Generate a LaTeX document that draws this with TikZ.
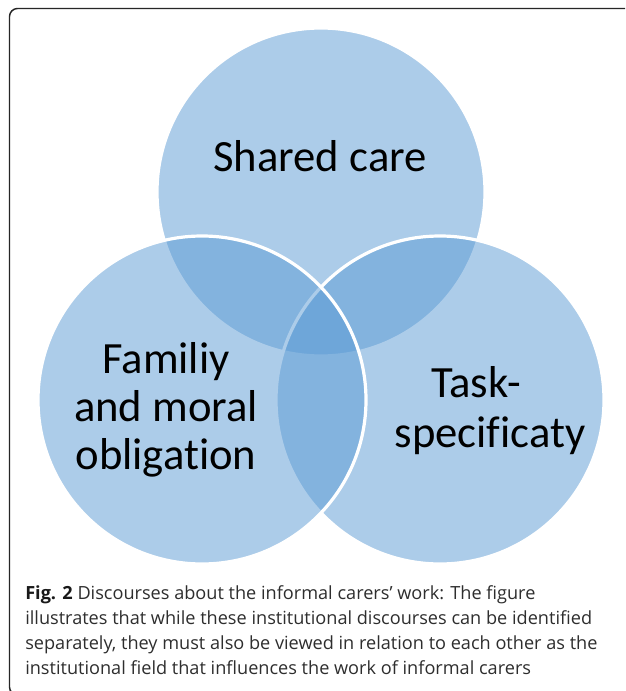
\documentclass[tikz,border=0pt]{standalone}
\usepackage{fontspec}
\setmainfont{Carlito}[Ligatures={NoCommon,NoContextual}]
\newfontfamily\capfont{Open Sans}
\definecolor{acc}{HTML}{5B9BD5}
\definecolor{captxt}{HTML}{2E2E2E}
\begin{document}
\begin{tikzpicture}[x=0.75pt,y=-0.75pt,
  venn/.style={fill=acc, fill opacity=0.5, draw=white, draw opacity=1, line width=2.4pt},
  lbl/.style={anchor=base, inner sep=0pt, font=\fontsize{33.5pt}{36pt}\selectfont, text=black},
  capline/.style={anchor=base west, inner sep=0pt, font=\capfont\fontsize{13.6pt}{18.75pt}\selectfont, text=captxt},
  frame/.style={draw=black!85, line width=1.1pt, rounded corners=6pt}]
\useasboundingbox (0,0) rectangle (625,691);
\clip (0,0) rectangle (625,691);
\fill[white] (0,0) rectangle (625,691);
\draw[frame] (640,8.5) -- (9.5,8.5) -- (9.5,695) -- (640,695);
% circles
\coordinate (ct) at (321,192);
\coordinate (cl) at (202,400);
\coordinate (cr) at (440,400);
\path[venn] (ct) circle[radius=123pt];
\path[venn] (cr) circle[radius=123pt];
\path[venn] (cl) circle[radius=123pt];
% labels
\node[lbl] (shared) at (320,172) {Shared care};
\node[lbl] (fam1) at (166,373) {Familiy};
\node[lbl] (fam2) at (166,421) {and moral};
\node[lbl] (fam3) at (166,469) {obligation};
\node[lbl] (task1) at (476,397) {Task-};
\node[lbl] (task2) at (490,447) {specificaty};
% caption
\node[capline] (cap1) at (25,599) {\textbf{\color{black!90}Fig. 2} Discourses about the informal carers’ work: The figure};
\node[capline] (cap2) at (25,624) {illustrates that while these institutional discourses can be identified};
\node[capline] (cap3) at (25,649) {separately, they must also be viewed in relation to each other as the};
\node[capline] (cap4) at (25,674) {institutional field that influences the work of informal carers};
\end{tikzpicture}
\end{document}
